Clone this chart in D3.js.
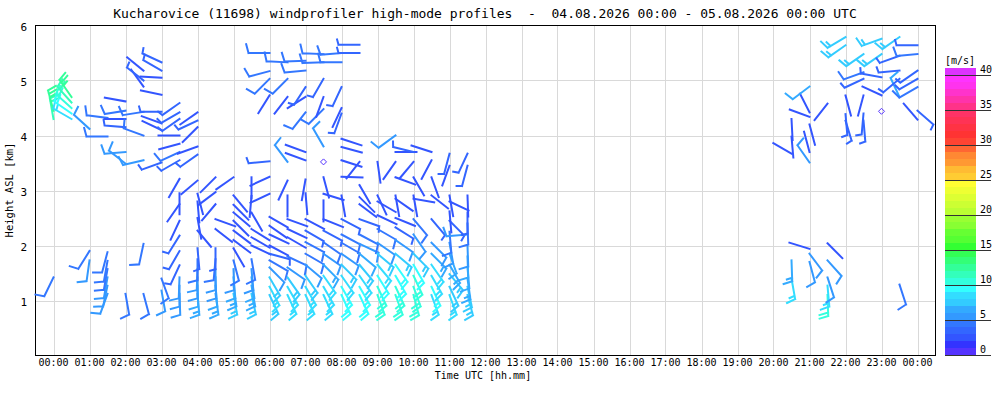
<!DOCTYPE html>
<html>
<head>
<meta charset="utf-8">
<script src="https://d3js.org/d3.v7.min.js"></script>
<style>
  body { margin: 0; background: #fff; }
  text { font-family: "DejaVu Sans Mono", monospace; fill: #000; }
</style>
</head>
<body>
<svg id="chart" width="1000" height="400"></svg>
<script>
const titleText = 'Kucharovice (11698) windprofiler high-mode profiles  -  04.08.2026 00:00 - 05.08.2026 00:00 UTC'
const hourLabels = ['00:00', '01:00', '02:00', '03:00', '04:00', '05:00', '06:00', '07:00', '08:00',
  '09:00', '10:00', '11:00', '12:00', '13:00', '14:00', '15:00', '16:00', '17:00', '18:00',
  '19:00', '20:00', '21:00', '22:00', '23:00', '00:00']
const heightTicks = [1, 2, 3, 4, 5, 6]
const scaleTicks = [0, 5, 10, 15, 20, 25, 30, 35, 40]

// one colour per 1 m/s step, last one is 40+
const speedColors = ['#5533ff', '#3333ff', '#3355ff', '#3366ff', '#3377ff', '#3399ff', '#33aaff',
  '#33ccff', '#33ddff', '#33ffff', '#33ffdd', '#33ffbb', '#33ff99', '#33ff77', '#33ff55', '#33ff33',
  '#55ff33', '#66ff33', '#88ff33', '#99ff33', '#bbff33', '#ccff33', '#ddff33', '#eeff33', '#ffff33',
  '#ffcc33', '#ffbb33', '#ff9933', '#ff8833', '#ff6633', '#ff4433', '#ff3333', '#ff3344', '#ff3355',
  '#ff3366', '#ff3388', '#ff33aa', '#ff33cc', '#ff33ee', '#ff33ff', '#dd33ff']

// [time UTC h, height km, speed m/s, direction deg]
const night = [
  [0, 1.42, 4.5, 206], [0, 4.30, 11.5, 350], [0, 4.45, 12.5, 345],
  [0.5, 4.30, 8.5, 300], [0.5, 4.40, 9.5, 305], [0.5, 4.50, 10.5, 312], [0.5, 4.60, 11.5, 318], [0.5, 4.70, 12.5, 325],
  [1, 1.90, 4, 212], [1, 1.73, 5, 188], [1, 4.12, 5.5, 312],
  [1.5, 1.12, 5, 200], [1.5, 1.27, 5, 192], [1.5, 1.42, 5, 190], [1.5, 1.57, 4.5, 190], [1.5, 1.72, 4.5, 190],
  [1.5, 1.88, 4.5, 195], [1.5, 3.98, 4.5, 270], [1.5, 4.32, 4.5, 277],
  [2, 1.12, 4.5, 170], [2, 3.49, 5.5, 308], [2, 3.70, 5, 265], [2, 4.15, 3, 275], [2, 4.30, 2, 270],
  [2, 4.45, 4, 261], [2, 4.62, 2, 280],
  [2.5, 1.12, 4.5, 165], [2.5, 2.03, 4.5, 192], [2.5, 3.55, 5, 257], [2.5, 4.00, 4, 290], [2.5, 4.43, 4, 261],
  [2.5, 4.89, 2, 324], [2.5, 5.00, 3, 308], [2.5, 5.18, 2.5, 309],
  [3, 1.18, 5, 170], [3, 1.40, 4.5, 160], [3, 3.51, 3, 250], [3, 4.10, 2, 295], [3, 4.22, 2, 290],
  [3, 4.43, 3, 270], [3, 4.74, 2, 282], [3, 5.05, 2.5, 273], [3, 5.18, 3, 300], [3, 5.33, 3.5, 295],
  [3.5, 1.12, 5.5, 178], [3.5, 1.27, 5.5, 180], [3.5, 1.42, 5, 182], [3.5, 1.64, 3, 205], [3.5, 1.90, 3, 210],
  [3.5, 2.18, 3, 212], [3.5, 2.45, 2, 205], [3.5, 2.75, 2, 215], [3.5, 2.95, 2, 180], [3.5, 3.21, 2, 210],
  [3.5, 3.55, 3.5, 240], [3.5, 3.70, 4, 245], [3.5, 3.85, 2.5, 255], [3.5, 4.00, 2, 270], [3.5, 4.30, 3, 235],
  [3.5, 4.42, 3, 240], [3.5, 4.59, 3, 235]
]
const morning = [
  [4, 1.12, 6.5, 175], [4, 1.27, 6, 178], [4, 1.42, 5.5, 180], [4, 1.57, 5, 182], [4, 1.75, 4, 180],
  [4, 1.95, 3, 175], [4, 2.27, 2, 140], [4, 2.50, 2, 170], [4, 2.80, 2, 175], [4, 2.94, 2, 165],
  [4, 3.18, 2, 230], [4, 3.65, 3, 235], [4, 3.80, 2.5, 250], [4, 4.15, 2.5, 225], [4, 4.27, 3, 245], [4, 4.42, 2.5, 235],
  [4.5, 1.12, 6.5, 172], [4.5, 1.27, 6, 175], [4.5, 1.42, 5.5, 178], [4.5, 1.57, 5, 180], [4.5, 1.75, 4, 185],
  [4.5, 1.95, 3, 180], [4.5, 2.30, 2, 128], [4.5, 2.48, 2, 110], [4.5, 2.75, 2, 220], [4.5, 2.97, 2, 233], [4.5, 3.24, 2, 225],
  [5, 1.12, 7, 170], [5, 1.27, 6.5, 172], [5, 1.42, 6, 175], [5, 1.57, 5.5, 178], [5, 1.73, 4.5, 165],
  [5, 1.95, 2, 150], [5, 2.10, 2, 127], [5, 2.27, 2, 127], [5, 2.45, 2, 135], [5, 2.60, 2, 130],
  [5, 2.74, 2, 135], [5, 2.91, 2, 140], [5, 3.24, 2, 235],
  [5.5, 1.12, 7, 168], [5.5, 1.27, 6.5, 170], [5.5, 1.42, 6, 172], [5.5, 1.57, 5.5, 175], [5.5, 1.75, 4.5, 170],
  [5.5, 2.00, 2, 115], [5.5, 2.15, 2, 120], [5.5, 2.30, 2, 122], [5.5, 2.60, 2, 150], [5.5, 2.90, 2, 185], [5.5, 3.24, 2, 180],
  [6, 1.10, 7.5, 155], [6, 1.25, 8, 152], [6, 1.42, 7, 150], [6, 1.60, 5.5, 135], [6, 1.73, 4.5, 120],
  [6, 1.85, 3, 105], [6, 2.00, 2, 118], [6, 2.20, 2.5, 115], [6, 2.36, 2, 125], [6, 2.52, 2, 120],
  [6, 2.94, 2, 245], [6, 3.25, 2.5, 245], [6, 3.53, 3, 265], [6, 4.73, 2.5, 212], [6, 5.03, 4, 225],
  [6, 5.17, 4.5, 255], [6, 5.50, 4.5, 270],
  [6.5, 1.10, 8.5, 155], [6.5, 1.25, 8, 150], [6.5, 1.42, 7, 145], [6.5, 1.60, 5, 125], [6.5, 1.80, 4, 115],
  [6.5, 2.15, 2.5, 120], [6.5, 2.30, 2, 115], [6.5, 2.48, 2, 110], [6.5, 2.91, 2, 180], [6.5, 3.18, 2, 205],
  [6.5, 3.52, 5, 323], [6.5, 4.70, 2.5, 218], [6.5, 5.03, 4, 225], [6.5, 5.33, 4, 273],
  [7, 1.10, 8.5, 155], [7, 1.25, 8.5, 150], [7, 1.45, 7.5, 145], [7, 1.65, 5.5, 130], [7, 1.85, 4.5, 120],
  [7, 2.06, 4, 118], [7, 2.27, 3, 120], [7, 2.48, 2.5, 118], [7, 2.95, 2, 175], [7, 3.20, 2, 190],
  [7, 3.55, 2, 290], [7, 3.70, 2, 290], [7, 4.42, 4.5, 218], [7, 4.70, 2.5, 238], [7, 4.88, 3.5, 213],
  [7, 5.18, 4, 265], [7, 5.36, 4.5, 268],
  [7.5, 1.10, 8.5, 155], [7.5, 1.25, 8.5, 150], [7.5, 1.45, 8, 145], [7.5, 1.65, 6.5, 135], [7.5, 1.85, 5, 125],
  [7.5, 2.06, 4, 125], [7.5, 2.27, 3, 118], [7.5, 2.48, 2, 112], [7.5, 2.82, 2, 180], [7.5, 2.94, 2, 107],
  [7.5, 3.24, 2, 165], [7.5, 3.80, 5, 330], [7.5, 4.48, 4, 225], [7.5, 4.70, 2.5, 200], [7.5, 5.03, 3, 210],
  [7.5, 5.33, 4, 268], [7.5, 5.48, 4, 272]
]
const midday = [
  [8, 1.10, 9.5, 155], [8, 1.25, 9, 150], [8, 1.45, 8.5, 145], [8, 1.65, 7, 135], [8, 1.85, 5.5, 125],
  [8, 2.05, 4.5, 120], [8, 2.20, 4, 118], [8, 2.48, 3, 118], [8, 2.91, 2, 170], [8, 3.25, 2, 92],
  [8, 3.55, 2, 108], [8, 3.79, 2, 105], [8, 3.94, 2, 108], [8, 4.40, 3, 200], [8, 4.50, 2.5, 205],
  [8, 4.88, 3, 205], [8, 5.33, 4, 270], [8, 5.50, 4, 265],
  [8.5, 1.10, 9.5, 155], [8.5, 1.25, 9, 150], [8.5, 1.45, 8.5, 145], [8.5, 1.65, 7.5, 140], [8.5, 1.85, 6, 130],
  [8.5, 2.03, 5, 115], [8.5, 2.20, 4, 118], [8.5, 2.48, 3, 110], [8.5, 2.75, 2, 127], [8.5, 2.88, 2, 135],
  [8.5, 3.10, 2, 150], [8.5, 3.52, 2, 218], [8.5, 5.50, 3.5, 270], [8.5, 5.65, 3.5, 270],
  [9, 1.10, 10, 160], [9, 1.25, 10, 155], [9, 1.45, 9.5, 148], [9, 1.65, 8.5, 140], [9, 1.85, 7, 130],
  [9, 2.05, 5, 125], [9, 2.30, 4, 120], [9, 2.55, 2.5, 115], [9, 2.80, 2, 120], [9, 2.91, 2, 155], [9, 3.52, 2, 172],
  [9.5, 1.10, 10.5, 160], [9.5, 1.25, 10, 155], [9.5, 1.45, 9.5, 150], [9.5, 1.65, 9, 145], [9.5, 1.85, 7, 130],
  [9.5, 2.10, 5, 125], [9.5, 2.33, 3.5, 122], [9.5, 2.50, 2.5, 112], [9.5, 2.85, 2, 125], [9.5, 2.91, 2, 170],
  [9.5, 3.24, 2, 110], [9.5, 3.52, 2, 215], [9.5, 3.70, 2.5, 90], [9.5, 4.00, 5, 234],
  [10, 1.10, 10, 165], [10, 1.25, 10.5, 160], [10, 1.45, 10, 155], [10, 1.65, 9, 150], [10, 1.85, 7.5, 135],
  [10, 2.20, 5, 145], [10, 2.48, 4, 140], [10, 2.85, 2, 100], [10, 2.91, 2, 170], [10, 3.24, 2, 150],
  [10, 3.52, 2, 220], [10, 3.70, 3.5, 284],
  [10.5, 1.10, 8.5, 160], [10.5, 1.25, 9, 155], [10.5, 1.45, 8.5, 150], [10.5, 1.65, 8, 145], [10.5, 1.85, 6.5, 135],
  [10.5, 2.05, 5, 135], [10.5, 2.48, 3.5, 140], [10.5, 2.91, 2, 128], [10.5, 3.24, 2, 160], [10.5, 3.55, 2, 208],
  [10.5, 3.70, 2, 288],
  [11, 1.10, 8, 160], [11, 1.25, 7.5, 155], [11, 1.48, 7, 140], [11, 1.65, 6.5, 150], [11, 1.85, 6, 160],
  [11, 2.05, 5, 170], [11, 2.25, 4, 175], [11, 2.45, 3.5, 135], [11, 2.62, 2.5, 175], [11, 2.80, 2, 115],
  [11, 2.91, 2, 170], [11, 3.45, 2.5, 200], [11, 3.67, 3, 195],
  [11.5, 1.10, 7, 165], [11.5, 1.25, 7, 168], [11.5, 1.40, 6.5, 172], [11.5, 1.60, 6, 175], [11.5, 1.80, 6, 178],
  [11.5, 2.00, 5.5, 178], [11.5, 2.20, 5, 265], [11.5, 2.40, 4, 178], [11.5, 2.60, 3, 180], [11.5, 2.91, 2, 178],
  [11.5, 3.45, 3, 195], [11.5, 3.67, 3, 205]
]
const evening = [
  [20.5, 1.40, 8, 170], [20.5, 1.73, 6.5, 178], [20.5, 3.67, 2, 300], [20.5, 3.98, 2, 175], [20.5, 4.30, 2, 177],
  [21, 1.70, 5.5, 165], [21, 1.85, 5, 143], [21, 1.94, 2.5, 287], [21, 3.51, 5, 325], [21, 3.70, 2, 345],
  [21, 4.20, 2, 165], [21, 4.34, 2, 290], [21, 4.42, 2, 333], [21, 4.89, 6, 233],
  [21.5, 1.10, 10, 178], [21.5, 1.27, 8, 175], [21.5, 1.42, 5, 162], [21.5, 1.73, 5.5, 138], [21.5, 2.04, 2.5, 135],
  [21.5, 4.58, 2, 218],
  [22, 4.27, 3, 163], [22, 4.39, 3, 175], [22, 4.73, 2, 165], [22, 5.64, 7, 235], [22, 5.79, 7.5, 239],
  [22.5, 4.27, 3, 175], [22.5, 4.40, 3, 185], [22.5, 4.73, 2, 195], [22.5, 5.03, 3.5, 245], [22.5, 5.15, 4, 250],
  [22.5, 5.48, 7, 235],
  [23, 4.73, 2.5, 295], [23, 5.06, 3.5, 280], [23, 5.48, 7, 235], [23, 5.76, 7.5, 250],
  [23.5, 1.29, 4, 162], [23.5, 4.70, 6, 335], [23.5, 5.03, 3.5, 230], [23.5, 5.18, 3.5, 265], [23.5, 5.45, 3.5, 250],
  [23.5, 5.79, 7, 235],
  [24, 4.29, 2, 319], [24, 4.45, 3, 131], [24, 4.88, 4, 240], [24, 5.03, 3.5, 240], [24, 5.18, 3.5, 235],
  [24, 5.48, 4, 265], [24, 5.64, 3.5, 270]
]
// calm (no direction) gates: [time, height]
const calms = [[7.5, 3.52], [23, 4.44]]

const barbs = night.concat(morning, midday, evening)

const svg = d3.select('#chart')
const x = d3.scaleLinear().domain([-0.5, 24.5]).range([35.5, 935.5])
const y = d3.scaleLinear().domain([0, 6]).range([355.5, 25.5])
const cy = d3.scaleLinear().domain([0, 40]).range([355, 75])

// grid
const grid = svg.append('g').attr('stroke', '#d9d9d9').attr('stroke-width', 1)
grid.selectAll('line.v').data(d3.range(hourLabels.length)).enter().append('line')
  .attr('x1', d => Math.round(x(d)) + 0.5).attr('x2', d => Math.round(x(d)) + 0.5)
  .attr('y1', y(6)).attr('y2', y(0))
grid.selectAll('line.h').data(heightTicks.slice(0, -1)).enter().append('line')
  .attr('x1', x(-0.5)).attr('x2', x(24.5))
  .attr('y1', d => Math.round(y(d)) + 0.5).attr('y2', d => Math.round(y(d)) + 0.5)

// frame
svg.append('rect').attr('x', x(-0.5)).attr('y', y(6)).attr('width', x(24.5) - x(-0.5)).attr('height', y(0) - y(6))
  .attr('fill', 'none').attr('stroke', '#000').attr('stroke-width', 1)

// tick labels
svg.append('g').selectAll('text').data(hourLabels).enter().append('text')
  .attr('x', (d, i) => x(i)).attr('y', 366).attr('text-anchor', 'middle').attr('font-size', 10).text(d => d)
svg.append('g').selectAll('text').data(heightTicks).enter().append('text')
  .attr('x', 27).attr('y', d => y(d) + 5).attr('text-anchor', 'end').attr('font-size', 11).text(d => d)

svg.append('text').attr('x', 485).attr('y', 17.5).attr('text-anchor', 'middle').attr('font-size', 13)
  .style('white-space', 'pre').text(titleText)
svg.append('text').attr('x', 483).attr('y', 379).attr('text-anchor', 'middle').attr('font-size', 10)
  .text('Time UTC [hh.mm]')
svg.append('text').attr('transform', 'translate(13,190) rotate(-90)').attr('text-anchor', 'middle')
  .attr('font-size', 10.5).text('Height ASL [km]')

// wind barbs: staff points to where the wind comes from, feathers at the far end,
// swept slightly outwards
const staffLen = 21, fullLen = 9, halfLen = 5.5, gap = 3.5, sweep = 15 * Math.PI / 180
function barbPath (d) {
  const ax = x(d[0]), ay = y(d[1])
  const th = d[3] * Math.PI / 180
  const ux = Math.sin(th), uy = -Math.cos(th)
  const vx = -uy * Math.cos(sweep) + ux * Math.sin(sweep)
  const vy = ux * Math.cos(sweep) + uy * Math.sin(sweep)
  const fx = ax + staffLen * ux, fy = ay + staffLen * uy
  let p = `M${ax},${ay}L${fx},${fy}`
  let n5 = d[2] < 2.6 ? 0 : Math.round(d[2] * 1.94384 / 5)
  let pos = 0
  while (n5 >= 2) {
    const px = fx - pos * ux, py = fy - pos * uy
    p += `M${px},${py}l${vx * fullLen},${vy * fullLen}`
    pos += gap
    n5 -= 2
  }
  if (n5 === 1) {
    const px = fx - pos * ux, py = fy - pos * uy
    p += `M${px},${py}l${vx * halfLen},${vy * halfLen}`
  }
  return p
}
const speedColor = s => speedColors[Math.min(40, Math.floor(s))]

svg.append('g').attr('id', 'barbs').selectAll('path').data(barbs).enter().append('path')
  .attr('d', barbPath)
  .attr('fill', 'none')
  .attr('stroke', d => speedColor(d[2]))
  .attr('stroke-width', 2)
  .attr('stroke-linecap', 'square')

svg.append('g').selectAll('path').data(calms).enter().append('path')
  .attr('d', d => `M${x(d[0])},${y(d[1]) - 3}l3,3l-3,3l-3,-3z`)
  .attr('fill', 'none').attr('stroke', speedColors[0]).attr('stroke-width', 1)

// colour scale
const bar = svg.append('g')
bar.selectAll('rect').data(speedColors).enter().append('rect')
  .attr('x', 945).attr('width', 31)
  .attr('y', (d, i) => cy(i + 1)).attr('height', cy(0) - cy(1))
  .attr('fill', d => d)
bar.selectAll('line').data(scaleTicks).enter().append('line')
  .attr('x1', 945).attr('x2', 991)
  .attr('y1', d => cy(d) + 0.5).attr('y2', d => cy(d) + 0.5)
  .attr('stroke', '#333').attr('stroke-width', 1)
bar.selectAll('text').data(scaleTicks).enter().append('text')
  .attr('x', 980).attr('y', d => cy(d) - 2.5).attr('font-size', 10).text(d => d)
svg.append('text').attr('x', 945).attr('y', 64).attr('font-size', 10).text('[m/s]')
</script>
</body>
</html>
